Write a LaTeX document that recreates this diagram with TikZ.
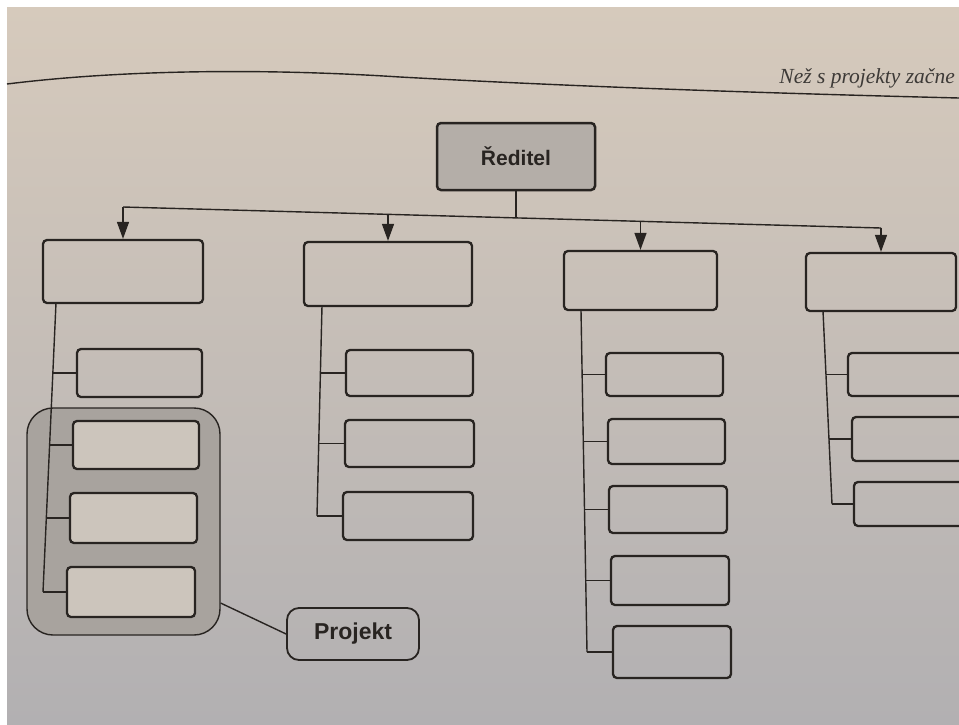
\documentclass[tikz,border=0pt]{standalone}
\usepackage{fontspec}
\setmainfont{Liberation Serif}
\newfontfamily\arialb{Liberation Sans}
\usetikzlibrary{arrows.meta}
\definecolor{pagetop}{RGB}{214,202,188}
\definecolor{pagemid}{RGB}{205,199,191}
\definecolor{pagebot}{RGB}{178,176,178}
\definecolor{ink}{RGB}{40,36,33}
\definecolor{grpfill}{RGB}{168,163,158}
\definecolor{redfill}{RGB}{180,174,168}
\definecolor{boxin}{RGB}{204,197,188}
\begin{document}
\begin{tikzpicture}[x=1pt,y=-1pt,
  box/.style={draw=ink, line width=2.3pt, rounded corners=4pt, inner sep=0pt},
  conn/.style={draw=ink, line width=1.4pt},
  arr/.style={conn, -{Triangle[length=17pt,width=12pt]}},
  lbl/.style={font=\arialb\bfseries\fontsize{21}{25}\selectfont, text=ink}]
\useasboundingbox (0,0) rectangle (959,724);
\clip (0,0) rectangle (959,724);
\fill[white] (0,0) rectangle (959,724);
\shade[top color=pagetop, middle color=pagemid, bottom color=pagebot] (7,7) rectangle (959,724);

% header
\draw[ink, line width=1.4pt] (7,84) .. controls (120,70) and (260,68) .. (400,77)
  .. controls (600,88) and (800,94) .. (959,98);
\node[anchor=base east, inner sep=0pt, text=ink!90, font=\itshape\fontsize{21.5}{26}\selectfont] (hdr) at (955,83) {Než s projekty začne};

% director
\node[box, line width=2.5pt, fill=redfill, minimum width=158pt, minimum height=67pt, lbl] (red) at (516,156.5) {Ředitel};

% bus coordinates
\coordinate (b1) at (123,207);
\coordinate (b2) at (388,214.3);
\coordinate (bj) at (516,217.9);
\coordinate (b3) at (640.5,221.3);
\coordinate (b4) at (881,228);

% top-level boxes
\node[box, minimum width=160pt, minimum height=63pt] (B1) at (123,271.5) {};
\node[box, minimum width=168pt, minimum height=64pt] (B2) at (388,274) {};
\node[box, minimum width=153pt, minimum height=59pt] (B3) at (640.5,280.5) {};
\node[box, minimum width=150pt, minimum height=58pt] (B4) at (881,282) {};

\draw[conn] (red.south) -- (bj);
\draw[conn] (b1) -- (b4);
\draw[arr] (b1) -- (B1.north);
\draw[arr] (b2) -- (B2.north);
\draw[arr] (b3) -- (B3.north);
\draw[arr] (b4) -- (B4.north);

% project group
\node[draw=ink, line width=1.4pt, fill=grpfill, rounded corners=26pt, minimum width=193pt, minimum height=227pt, inner sep=0pt] (grp) at (123.5,521.5) {};
\node[box, line width=1.8pt, rounded corners=12pt, minimum width=132pt, minimum height=52pt, lbl, font=\arialb\bfseries\fontsize{23}{27}\selectfont] (proj) at (353,634) {Projekt};
\draw[conn] (grp.-40) -- (proj.west);

% column 1
\coordinate (c1t) at (56,303);
\coordinate (c1a) at (52.9,373);
\coordinate (c1b) at (49.6,445);
\coordinate (c1c) at (46.3,518);
\coordinate (c1d) at (43,592);
\draw[conn] (c1t) -- (c1d);
\node[box, minimum width=125pt, minimum height=48pt] (s1a) at (139.5,373) {};
\node[box, fill=boxin, minimum width=126pt, minimum height=48pt] (s1b) at (136,445) {};
\node[box, fill=boxin, minimum width=127pt, minimum height=50pt] (s1c) at (133.5,518) {};
\node[box, fill=boxin, minimum width=128pt, minimum height=50pt] (s1d) at (131,592) {};
\draw[conn] (c1a) -- (s1a.west);
\draw[conn] (c1b) -- (s1b.west);
\draw[conn] (c1c) -- (s1c.west);
\draw[conn] (c1d) -- (s1d.west);

% column 2
\coordinate (c2t) at (322,306);
\coordinate (c2a) at (320.4,373);
\coordinate (c2b) at (318.7,443.5);
\coordinate (c2c) at (317,516);
\draw[conn] (c2t) -- (c2c);
\node[box, minimum width=127pt, minimum height=46pt] (s2a) at (409.5,373) {};
\node[box, minimum width=129pt, minimum height=47pt] (s2b) at (409.5,443.5) {};
\node[box, minimum width=130pt, minimum height=48pt] (s2c) at (408,516) {};
\draw[conn] (c2a) -- (s2a.west);
\draw[conn] (c2b) -- (s2b.west);
\draw[conn] (c2c) -- (s2c.west);

% column 3
\coordinate (c3t) at (581,310);
\coordinate (c3a) at (582.1,374.5);
\coordinate (c3b) at (583.3,441.5);
\coordinate (c3c) at (584.5,509.5);
\coordinate (c3d) at (585.7,580.5);
\coordinate (c3e) at (587,652);
\draw[conn] (c3t) -- (c3e);
\node[box, minimum width=117pt, minimum height=43pt] (s3a) at (664.5,374.5) {};
\node[box, minimum width=117pt, minimum height=45pt] (s3b) at (666.5,441.5) {};
\node[box, minimum width=118pt, minimum height=47pt] (s3c) at (668,509.5) {};
\node[box, minimum width=118pt, minimum height=49pt] (s3d) at (670,580.5) {};
\node[box, minimum width=118pt, minimum height=52pt] (s3e) at (672,652) {};
\draw[conn] (c3a) -- (s3a.west);
\draw[conn] (c3b) -- (s3b.west);
\draw[conn] (c3c) -- (s3c.west);
\draw[conn] (c3d) -- (s3d.west);
\draw[conn] (c3e) -- (s3e.west);

% column 4
\coordinate (c4t) at (823,311);
\coordinate (c4a) at (826,374.5);
\coordinate (c4b) at (829,439);
\coordinate (c4c) at (832,504);
\draw[conn] (c4t) -- (c4c);
\node[box, minimum width=132pt, minimum height=43pt] (s4a) at (914,374.5) {};
\node[box, minimum width=128pt, minimum height=44pt] (s4b) at (916,439) {};
\node[box, minimum width=126pt, minimum height=44pt] (s4c) at (917,504) {};
\draw[conn] (c4a) -- (s4a.west);
\draw[conn] (c4b) -- (s4b.west);
\draw[conn] (c4c) -- (s4c.west);
\end{tikzpicture}
\end{document}
